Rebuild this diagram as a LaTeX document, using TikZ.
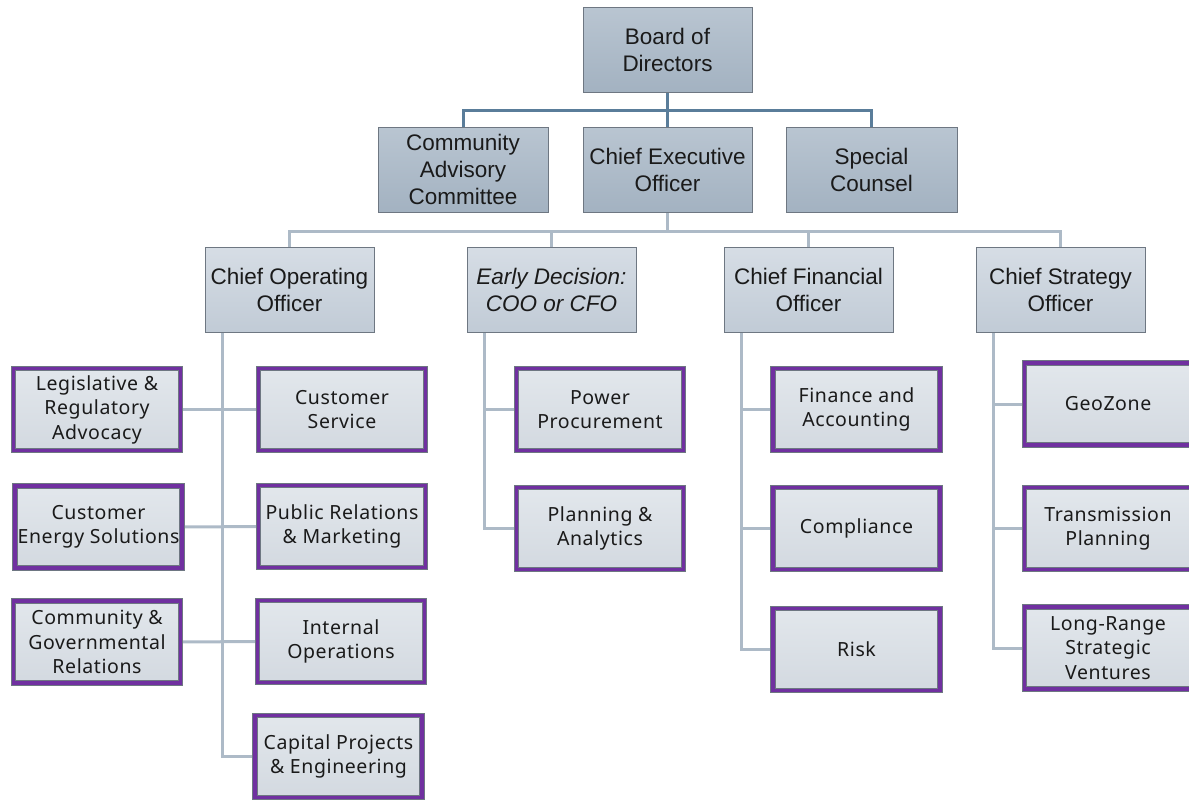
\documentclass[tikz,border=0pt]{standalone}
\usepackage{fontspec}
\setmainfont{Liberation Sans}
\newfontfamily\unitfont[LetterSpace=3]{Noto Sans}
\usetikzlibrary{backgrounds}
\definecolor{execTop}{HTML}{B9C5D1}
\definecolor{execBot}{HTML}{A3B2C1}
\definecolor{chiefTop}{HTML}{D6DDE5}
\definecolor{chiefBot}{HTML}{C1CBD6}
\definecolor{unitTop}{HTML}{E2E7EC}
\definecolor{unitBot}{HTML}{D3D9E0}
\definecolor{boxEdge}{HTML}{6E7782}
\definecolor{unitPurple}{HTML}{7030A0}
\definecolor{busDark}{HTML}{5A7D9A}
\definecolor{busLight}{HTML}{ADBAC7}
\definecolor{ink}{HTML}{1A1A1A}
\tikzset{
  execbox/.style={rectangle, draw=boxEdge, line width=1pt, shading=axis,
    top color=execTop, bottom color=execBot, minimum width=169pt,
    minimum height=85pt, inner sep=0pt, align=center, text=ink,
    font=\fontsize{22.5}{27}\selectfont},
  chiefbox/.style={execbox, top color=chiefTop, bottom color=chiefBot},
  unitbox/.style={rectangle, draw=boxEdge, line width=0.8pt, double=unitPurple,
    double distance=3.6pt, shading=axis, top color=unitTop, bottom color=unitBot,
    minimum width=167pt, minimum height=82pt, inner sep=0pt, align=center,
    text=ink, font=\unitfont\fontsize{19.5}{24.5}\selectfont},
  topbus/.style={draw=busDark, line width=3pt},
  lowbus/.style={draw=busLight, line width=3pt},
}
\begin{document}
\begin{tikzpicture}[x=1pt, y=-1pt]
\useasboundingbox (0,0) rectangle (1189,801);

% executive level
\node[execbox] (board) at (667.5,49.5) {Board of\\Directors};
\node[execbox, minimum width=170pt] (cac) at (463,169.5) {Community\\Advisory\\Committee};
\node[execbox] (ceo) at (667.5,169.5) {Chief Executive\\Officer};
\node[execbox, minimum width=171pt] (sc) at (871.5,169.5) {Special\\Counsel};

% chief officers
\node[chiefbox] (coo) at (289.5,289.5) {Chief Operating\\Officer};
\node[chiefbox] (ed) at (551.5,289.5) {\itshape Early Decision:\\\itshape COO or CFO};
\node[chiefbox] (cfo) at (808.5,289.5) {Chief Financial\\Officer};
\node[chiefbox] (cso) at (1060.5,289.5) {Chief Strategy\\Officer};

% operations units
\node[unitbox] (leg) at (97,409.5) {Legislative \&\\Regulatory\\Advocacy};
\node[unitbox] (ces) at (98.5,527) {Customer\\Energy Solutions};
\node[unitbox] (cgr) at (97,642) {Community \&\\Governmental\\Relations};
\node[unitbox] (cs) at (342,409.5) {Customer\\Service};
\node[unitbox] (pr) at (342,526.5) {Public Relations\\\& Marketing};
\node[unitbox] (io) at (341,641.5) {Internal\\Operations};
\node[unitbox] (cpe) at (338.5,756.5) {Capital Projects\\\& Engineering};

% early decision units
\node[unitbox] (pp) at (600,409.5) {Power\\Procurement};
\node[unitbox] (pa) at (600,528.5) {Planning \&\\Analytics};

% finance units
\node[unitbox] (fa) at (856.5,409.5) {Finance and\\Accounting};
\node[unitbox] (comp) at (856.5,528.5) {Compliance};
\node[unitbox] (risk) at (856.5,649.5) {Risk};

% strategy units
\node[unitbox] (geo) at (1108,404) {GeoZone};
\node[unitbox] (tp) at (1108,528.5) {Transmission\\Planning};
\node[unitbox] (lr) at (1108,648) {Long-Range\\Strategic\\Ventures};

\begin{scope}[on background layer]
  % board to its direct reports
  \draw[topbus] (board.south) -- ++(0,18) -| (cac.north);
  \draw[topbus] (board.south) -- ++(0,18) -| (sc.north);
  \draw[topbus] (board.south) -- (ceo.north);
  % CEO to chief officers
  \draw[lowbus] (ceo.south) -- ++(0,19) -| (coo.north);
  \draw[lowbus] (ceo.south) -- ++(0,19) -| (ed.north);
  \draw[lowbus] (ceo.south) -- ++(0,19) -| (cfo.north);
  \draw[lowbus] (ceo.south) -- ++(0,19) -| (cso.north);
  % COO trunk and branches
  \draw[lowbus] ([xshift=-67.5pt]coo.south) |- (cpe.west);
  \draw[lowbus] (leg.east) -- (cs.west);
  \draw[lowbus] (ces.east) -- (pr.west);
  \draw[lowbus] (cgr.east) -- (io.west);
  % early decision trunk
  \draw[lowbus] ([xshift=-67.5pt]ed.south) |- (pp.west);
  \draw[lowbus] ([xshift=-67.5pt]ed.south) |- (pa.west);
  % CFO trunk
  \draw[lowbus] ([xshift=-67.5pt]cfo.south) |- (fa.west);
  \draw[lowbus] ([xshift=-67.5pt]cfo.south) |- (comp.west);
  \draw[lowbus] ([xshift=-67.5pt]cfo.south) |- (risk.west);
  % CSO trunk
  \draw[lowbus] ([xshift=-67.5pt]cso.south) |- (geo.west);
  \draw[lowbus] ([xshift=-67.5pt]cso.south) |- (tp.west);
  \draw[lowbus] ([xshift=-67.5pt]cso.south) |- (lr.west);
\end{scope}
\end{tikzpicture}
\end{document}
